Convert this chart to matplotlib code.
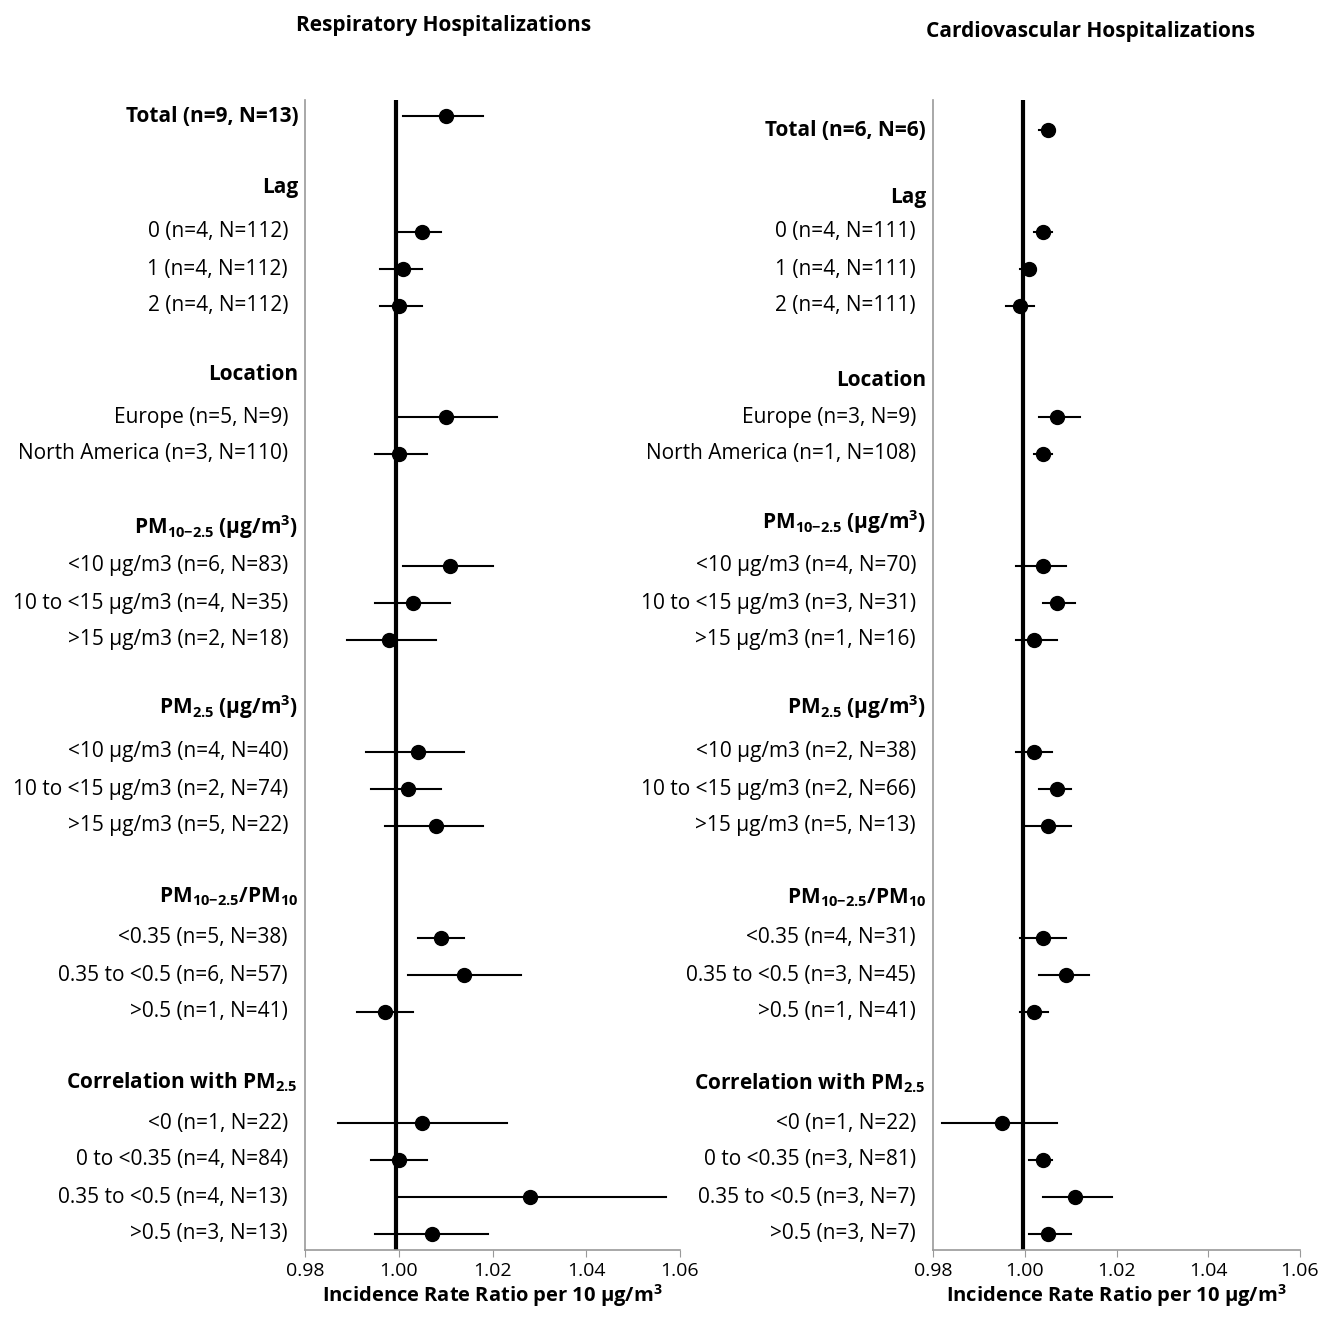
import matplotlib
matplotlib.use("Agg")
import matplotlib.pyplot as plt
import matplotlib.transforms as mtrans

plt.rcParams['font.family'] = ['Open Sans', 'DejaVu Sans']
plt.rcParams['mathtext.default'] = 'regular'

PM10 = 'PM$_{10{-}2.5}$ (μg/m$^{3}$)'
PM25 = 'PM$_{2.5}$ (μg/m$^{3}$)'
RATIO = 'PM$_{10{-}2.5}$/PM$_{10}$'
CORR = 'Correlation with PM$_{2.5}$'

headings = ['Lag', 'Location', PM10, PM25, RATIO, CORR]

resp_labels = ['Total (n=9, N=13)', '0 (n=4, N=112)', '1 (n=4, N=112)', '2 (n=4, N=112)',
               'Europe (n=5, N=9)', 'North America (n=3, N=110)',
               '<10 μg/m3 (n=6, N=83)', '10 to <15 μg/m3 (n=4, N=35)', '>15 μg/m3 (n=2, N=18)',
               '<10 μg/m3 (n=4, N=40)', '10 to <15 μg/m3 (n=2, N=74)', '>15 μg/m3 (n=5, N=22)',
               '<0.35 (n=5, N=38)', '0.35 to <0.5 (n=6, N=57)', '>0.5 (n=1, N=41)',
               '<0 (n=1, N=22)', '0 to <0.35 (n=4, N=84)', '0.35 to <0.5 (n=4, N=13)', '>0.5 (n=3, N=13)']
resp_est = [1.010, 1.005, 1.001, 1.000, 1.010, 1.000, 1.011, 1.003, 0.998, 1.004, 1.002, 1.008,
            1.009, 1.014, 0.997, 1.005, 1.000, 1.028, 1.007]
resp_lo = [1.001, 1.000, 0.996, 0.996, 1.000, 0.995, 1.001, 0.995, 0.989, 0.993, 0.994, 0.997,
           1.004, 1.002, 0.991, 0.987, 0.994, 1.000, 0.995]
resp_hi = [1.018, 1.009, 1.005, 1.005, 1.021, 1.006, 1.020, 1.011, 1.008, 1.014, 1.009, 1.018,
           1.014, 1.026, 1.003, 1.023, 1.006, 1.057, 1.019]

card_labels = ['Total (n=6, N=6)', '0 (n=4, N=111)', '1 (n=4, N=111)', '2 (n=4, N=111)',
               'Europe (n=3, N=9)', 'North America (n=1, N=108)',
               '<10 μg/m3 (n=4, N=70)', '10 to <15 μg/m3 (n=3, N=31)', '>15 μg/m3 (n=1, N=16)',
               '<10 μg/m3 (n=2, N=38)', '10 to <15 μg/m3 (n=2, N=66)', '>15 μg/m3 (n=5, N=13)',
               '<0.35 (n=4, N=31)', '0.35 to <0.5 (n=3, N=45)', '>0.5 (n=1, N=41)',
               '<0 (n=1, N=22)', '0 to <0.35 (n=3, N=81)', '0.35 to <0.5 (n=3, N=7)', '>0.5 (n=3, N=7)']
card_est = [1.005, 1.004, 1.001, 0.999, 1.007, 1.004, 1.004, 1.007, 1.002, 1.002, 1.007, 1.005,
            1.004, 1.009, 1.002, 0.995, 1.004, 1.011, 1.005]
card_lo = [1.003, 1.002, 0.999, 0.996, 1.003, 1.002, 0.998, 1.004, 0.998, 0.998, 1.003, 1.000,
           0.999, 1.003, 0.999, 0.982, 1.001, 1.004, 1.001]
card_hi = [1.006, 1.006, 1.002, 1.002, 1.012, 1.006, 1.009, 1.011, 1.007, 1.006, 1.010, 1.010,
           1.009, 1.014, 1.005, 1.007, 1.006, 1.019, 1.010]

xticks = [0.98, 1.00, 1.02, 1.04, 1.06]

# layout (pixel rows)
row_y = [232, 269, 306, 417, 454, 566, 603, 640, 752, 789, 826, 938, 975, 1012, 1123, 1160, 1197, 1234]
resp_total_y = 116
card_total_y = 130
resp_head_y = [188, 375, 527, 707, 897, 1082]
card_head_y = [197, 380, 522, 707, 898, 1083]

fig = plt.figure(figsize=(13.25, 13.24), dpi=100)
H = 1324.0
W = 1325.0

def panel(x0, x1, title, title_x, title_y, labels, est, lo, hi, total_y, head_y, refx):
    ax = fig.add_axes([x0 / W, 1 - 1250 / H, (x1 - x0) / W, (1250 - 100) / H])
    ax.set_xlim(0.98, 1.06)
    ax.set_ylim(1250, 100)
    ys = [total_y] + row_y
    for y, e, l, h in zip(ys, est, lo, hi):
        ax.plot([l, h], [y, y], color='black', lw=1.5)
        ax.plot([e], [y], 'o', color='black', ms=10)
    ax.axvline(refx, color='black', lw=3)
    for s in ['top', 'right', 'bottom']:
        ax.spines[s].set_visible(False)
    ax.spines['left'].set_color('#999999')
    ax.spines['left'].set_linewidth(1.2)
    ax.set_yticks([])
    ax.set_xticks(xticks)
    ax.set_xticklabels(['%.2f' % v for v in xticks], fontsize=14)
    ax.tick_params(axis='x', length=5, color='#999999')
    ax.axhline(1250, color='#999999', lw=1.2, clip_on=False)
    ax.set_xlabel('Incidence Rate Ratio per 10 μg/m$^{3}$', fontsize=14.5, fontweight='bold', labelpad=2)
    tr = mtrans.blended_transform_factory(ax.transAxes, ax.transData)
    off = -17 / (x1 - x0)
    for i, (y, t) in enumerate(zip(ys, labels)):
        bold = (i == 0)
        ax.text(off + (0.027 if bold else 0), y, t, transform=tr, ha='right', va='center',
                fontsize=15, fontweight='bold' if bold else 'normal')
    for y, t in zip(head_y, headings):
        ax.text(off + 0.027, y, t, transform=tr, ha='right', va='center', fontsize=15, fontweight='bold')
    fig.text(title_x / W, 1 - title_y / H, title, ha='center', va='center', fontsize=15, fontweight='bold')
    return ax

panel(305, 680, 'Respiratory Hospitalizations', 444, 26, resp_labels, resp_est, resp_lo, resp_hi,
      resp_total_y, resp_head_y, 0.9995)
panel(933, 1300, 'Cardiovascular Hospitalizations', 1090, 31, card_labels, card_est, card_lo, card_hi,
      card_total_y, card_head_y, 0.9997)

fig.savefig('out.png', dpi=100, facecolor='white')
